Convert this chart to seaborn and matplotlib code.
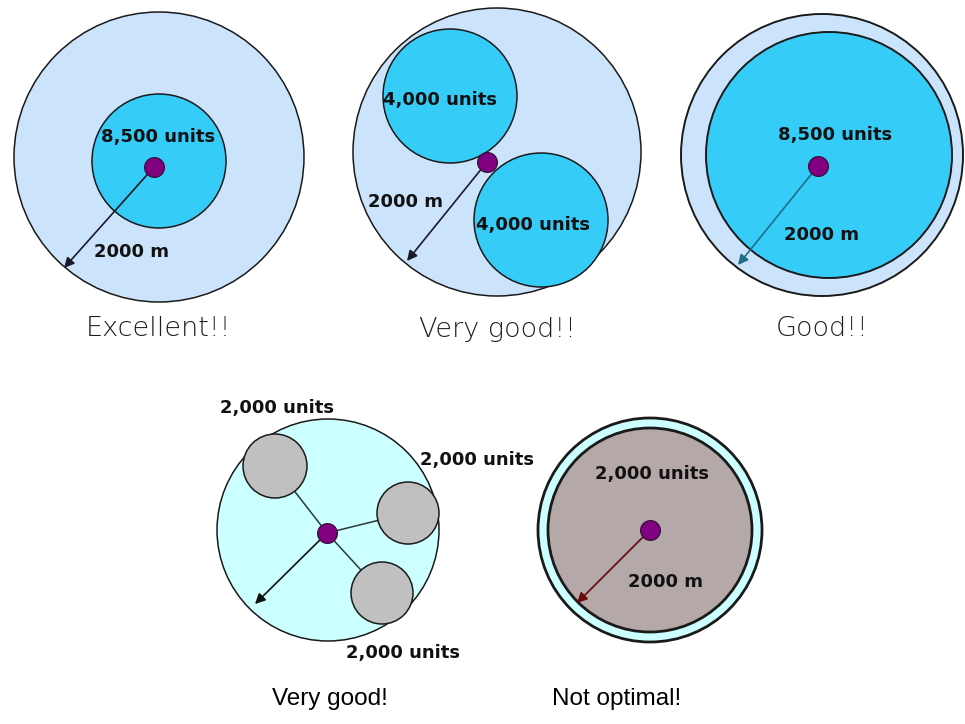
import matplotlib
matplotlib.use("Agg")
import matplotlib.pyplot as plt
from matplotlib.patches import Circle
import seaborn as sns
import pandas as pd

sns.set_theme(style="white")
plt.rcParams['font.family'] = ['Liberation Sans', 'DejaVu Sans']

# ---- data ----
panel_captions = ["Excellent!!", "Very good!!", "Good!!", "Very good!", "Not optimal!"]
unit_labels = ["8,500 units", "4,000 units", "4,000 units", "8,500 units",
               "2,000 units", "2,000 units", "2,000 units", "2,000 units"]
radius_label = "2000 m"

# panel geometry (pixel space of the 965x724 canvas)
outer_cx = [159, 497, 822, 328, 650]
outer_cy = [157, 152, 155, 530, 530]
outer_r = [145, 144, 141, 111, 112]
hub_x = [154, 487, 818, 327, 650]
hub_y = [167, 162, 166, 533, 530]
arrow_x = [64, 407, 738, 255, 577]
arrow_y = [268, 261, 265, 604, 603]

# colours
LIGHT_BLUE = "#CCE4FB"
CYAN = "#36CCF8"
PALE_CYAN = "#CCFFFF"
GREY = "#C0C0C0"
TAUPE = "#B4A8A8"
PURPLE = "#800080"

fig = plt.figure(figsize=(9.65, 7.24), dpi=100)
ax = fig.add_axes([0, 0, 1, 1])

def circ(cx, cy, r, fc, lw=1.1, ec="#1a1a1a", z=1):
    ax.add_patch(Circle((cx, cy), r, facecolor=fc, edgecolor=ec, lw=lw, zorder=z))

# Panel 1
circ(outer_cx[0], outer_cy[0], outer_r[0], LIGHT_BLUE)
circ(159, 161, 67, CYAN, z=2)
# Panel 2
circ(outer_cx[1], outer_cy[1], outer_r[1], LIGHT_BLUE)
circ(450, 96, 67, CYAN, z=2)
circ(541, 220, 67, CYAN, z=2)
# Panel 3
circ(outer_cx[2], outer_cy[2], outer_r[2], LIGHT_BLUE, lw=1.4)
circ(829, 155, 123, CYAN, lw=1.4, z=2)
# Panel 4
circ(outer_cx[3], outer_cy[3], outer_r[3], PALE_CYAN)
grey_x = [275, 408, 382]
grey_y = [466, 513, 593]
grey_r = [32, 31, 31]
for gx, gy, gr in zip(grey_x, grey_y, grey_r):
    ax.plot([hub_x[3], gx], [hub_y[3], gy], color="#2a3a3a", lw=1.1, zorder=2)
    circ(gx, gy, gr, GREY, z=3)
# Panel 5
circ(outer_cx[4], outer_cy[4], outer_r[4], PALE_CYAN, lw=2.0)
circ(outer_cx[4], outer_cy[4], 102, TAUPE, lw=2.0, z=2)

# arrows
arrow_cols = ["#1a1a2a", "#1a1a2a", "#1f6f88", "#111111", "#6a0a0a"]
for i in range(5):
    ax.annotate("", xy=(arrow_x[i], arrow_y[i]), xytext=(hub_x[i], hub_y[i]),
                arrowprops=dict(arrowstyle="-|>", color=arrow_cols[i], lw=1.2,
                                mutation_scale=15, shrinkA=0, shrinkB=0),
                zorder=4)

# hubs through seaborn
hubs = pd.DataFrame({"x": hub_x, "y": hub_y})
sns.scatterplot(data=hubs, x="x", y="y", ax=ax, s=200, color=PURPLE,
                edgecolor="#3a1040", linewidth=1.0, zorder=6, legend=False)
ax.set_xlim(0, 965)
ax.set_ylim(724, 0)
ax.axis("off")

BOLD_FONT = ["DejaVu Sans"]
# unit labels
lab_x = [158, 440, 533, 835, 277, 477, 403, 652]
lab_y = [137, 100, 225, 135, 408, 460, 653, 474]
for t, x, y in zip(unit_labels, lab_x, lab_y):
    ax.text(x, y, t, ha="center", va="center", fontsize=13, fontweight="bold",
            color="#111111", zorder=7, family=BOLD_FONT)

# radius labels
rad_x = [132, 406, 822, 665]
rad_y = [252, 202, 235, 582]
for x, y in zip(rad_x, rad_y):
    ax.text(x, y, radius_label, ha="center", va="center", fontsize=13,
            fontweight="bold", color="#111111", zorder=7, family=BOLD_FONT)

# captions
cap_x = [158, 497, 822]
for t, x in zip(panel_captions[:3], cap_x):
    ax.text(x, 329, t, ha="center", va="center", fontsize=19.5, color="#1e1e1e",
            family=["DejaVu Sans"], fontweight="light")
cap2_x = [330, 617]
for t, x in zip(panel_captions[3:], cap2_x):
    ax.text(x, 699, t, ha="center", va="center", fontsize=17.5, color="#000000",
            family=["Liberation Sans Narrow", "Liberation Sans", "DejaVu Sans"])

fig.savefig("out.png", dpi=100, facecolor="white")
